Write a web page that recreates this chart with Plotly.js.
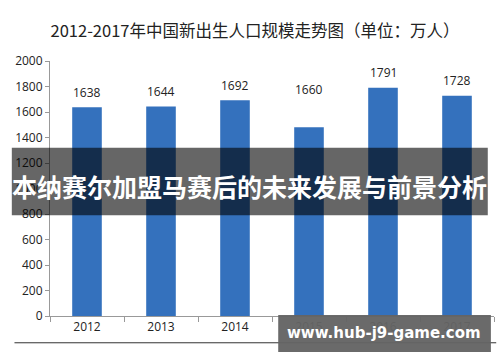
<!DOCTYPE html>
<html><head><meta charset="utf-8">
<script src="https://cdn.plot.ly/plotly-3.0.1.min.js"></script>
<style>html,body{margin:0;padding:0;background:#fff}#c{width:500px;height:362px}</style>
</head><body><div id="c"></div>
<script>
const years = ['2012','2013','2014','2015','2016','2017'];
const barValues = [1638, 1644, 1692, 1480, 1791, 1728];
const labelValues = [1638, 1644, 1692, 1660, 1791, 1728];
const yTicks = [0, 200, 400, 600, 800, 1000, 1200, 1400, 1600, 1800, 2000];
const titleText = '2012-2017年中国新出生人口规模走势图（单位：万人）';
const bannerText = '本纳赛尔加盟马赛后的未来发展与前景分析';
const watermarkText = 'www.hub-j9-game.com';

const bars = {
  type: 'bar', x: years, y: barValues,
  marker: {color: '#3471bd', line: {width: 0}},
  width: 0.4, hoverinfo: 'none', showlegend: false
};
const labelAnns = years.map((yr, i) => ({
  x: i, y: labelValues[i], xref: 'x', yref: 'y', text: String(labelValues[i]),
  showarrow: false, yanchor: 'middle', yshift: 15,
  font: {family: 'Open Sans, sans-serif', size: 12, color: '#222'}
}));
const layout = {
  width: 500, height: 362,
  margin: {l: 50, r: 6, t: 61, b: 46},
  paper_bgcolor: '#fff', plot_bgcolor: '#fff',
  title: {text: titleText, x: 0.51, xanchor: 'center', y: 0.915, yanchor: 'middle',
          font: {family: 'Noto Sans CJK SC, sans-serif', size: 16.5, color: '#222'}},
  xaxis: {type: 'category', categoryarray: years, range: [-0.5, 5.5], showgrid: false, showline: true,
          linecolor: '#999', linewidth: 1,
          ticks: 'outside', tickson: 'boundaries', ticklen: 5, tickcolor: '#999',
          tickfont: {family: 'Open Sans, sans-serif', size: 12, color: '#222'}, zeroline: false},
  yaxis: {range: [0, 2000], tickvals: yTicks, showgrid: false, showline: true, linecolor: '#999',
          linewidth: 1, ticks: 'outside', ticklen: 4, tickcolor: '#999', zeroline: false,
          tickfont: {family: 'Open Sans, sans-serif', size: 12, color: '#222'}},
  shapes: [
    {type: 'line', xref: 'paper', yref: 'paper', x0: -0.08, x1: 1.005, y0: -0.105, y1: -0.105,
     line: {color: '#333', width: 1}},
    {type: 'rect', xref: 'paper', yref: 'paper', x0: -0.086, x1: 0.986, y0: 0.395, y1: 0.66,
     fillcolor: 'rgba(0,0,0,0.6)', line: {width: 0}, layer: 'above'},
    {type: 'rect', xref: 'paper', yref: 'paper', x0: 0.514, x1: 0.993, y0: -0.141, y1: 0.004,
     fillcolor: 'rgba(100,100,100,0.96)', line: {width: 0}, layer: 'above'}
  ],
  annotations: labelAnns.concat([
    {text: '<b>' + bannerText + '</b>', xref: 'paper', yref: 'paper', x: 0.45, y: 0.508,
     xanchor: 'center', yanchor: 'middle', showarrow: false,
     font: {family: 'Noto Sans CJK SC, sans-serif', size: 25, color: '#fff'}},
    {text: '<b>' + watermarkText + '</b>', xref: 'paper', yref: 'paper', x: 0.753, y: -0.068,
     xanchor: 'center', yanchor: 'middle', showarrow: false,
     font: {family: 'DejaVu Sans, sans-serif', size: 15, color: '#fff'}}
  ])
};
Plotly.newPlot('c', [bars], layout, {displayModeBar: false, staticPlot: true});
</script></body></html>
